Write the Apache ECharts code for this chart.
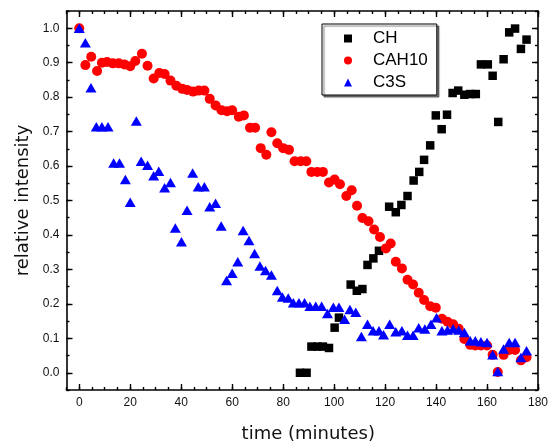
<!DOCTYPE html>
<html>
<head>
<meta charset="utf-8">
<script src="https://cdn.jsdelivr.net/npm/echarts@6/dist/echarts.min.js"></script>
<style>
html,body{margin:0;padding:0;background:#fff;}
#chart{width:552px;height:448px;}
</style>
</head>
<body>
<div id="chart"></div>
<script>
// ---- data ----
const chTime = [86.6, 89.2, 91.1, 93.4, 95.6, 98.0, 100.2, 101.9, 106.5, 108.9, 111.1, 113.1, 115.4, 117.6, 121.6, 124.2, 126.4, 128.8, 131.2, 133.4, 135.3, 137.7, 139.9, 142.2, 144.3, 146.5, 148.7, 151.1, 153.4, 155.6, 157.6, 160.3, 162.2, 164.4, 166.5, 168.7, 171.0, 173.3, 175.5];
const chValue = [0.0, 0.0, 0.076, 0.076, 0.076, 0.072, 0.131, 0.160, 0.256, 0.238, 0.243, 0.313, 0.332, 0.354, 0.482, 0.466, 0.487, 0.513, 0.558, 0.583, 0.618, 0.660, 0.747, 0.707, 0.749, 0.812, 0.819, 0.807, 0.809, 0.809, 0.895, 0.895, 0.862, 0.728, 0.910, 0.988, 0.999, 0.940, 0.967];

const cah10Time = [0, 2.4, 4.7, 7.0, 8.9, 10.9, 13.2, 15.5, 17.7, 20.0, 22.0, 24.6, 26.8, 29.2, 31.4, 33.5, 35.8, 38.1, 40.4, 42.3, 44.7, 46.9, 49.1, 51.2, 53.5, 55.8, 58.0, 60.0, 62.6, 64.6, 67.0, 69.0, 71.2, 73.4, 75.4, 77.7, 80.0, 82.3, 84.5, 86.9, 89.1, 91.1, 93.4, 95.6, 98.0, 100.2, 102.3, 104.8, 106.9, 109.0, 111.1, 113.5, 115.7, 118.0, 120.3, 122.2, 124.2, 126.6, 128.8, 131.0, 133.2, 135.3, 137.7, 139.9, 142.3, 144.5, 146.7, 148.9, 151.1, 153.4, 155.4, 157.6, 160.0, 162.2, 164.2, 166.5, 168.7, 171.0, 173.3, 175.5];
const cah10Value = [1.0, 0.893, 0.917, 0.876, 0.900, 0.902, 0.898, 0.898, 0.895, 0.890, 0.905, 0.926, 0.891, 0.854, 0.870, 0.867, 0.848, 0.833, 0.824, 0.821, 0.816, 0.819, 0.819, 0.795, 0.776, 0.762, 0.759, 0.762, 0.743, 0.747, 0.711, 0.711, 0.652, 0.633, 0.698, 0.666, 0.652, 0.647, 0.614, 0.614, 0.614, 0.583, 0.583, 0.583, 0.552, 0.561, 0.547, 0.513, 0.530, 0.485, 0.449, 0.440, 0.416, 0.394, 0.361, 0.375, 0.322, 0.303, 0.270, 0.256, 0.232, 0.211, 0.193, 0.189, 0.157, 0.148, 0.141, 0.128, 0.098, 0.081, 0.079, 0.079, 0.079, 0.052, 0.002, 0.052, 0.066, 0.066, 0.036, 0.045];

const c3sTime = [0, 2.4, 4.6, 6.7, 8.9, 11.3, 13.5, 15.8, 18.1, 20.0, 22.4, 24.3, 26.8, 29.2, 31.2, 33.5, 35.8, 37.7, 40.1, 42.3, 44.5, 46.7, 49.1, 51.2, 53.5, 55.7, 57.8, 60.0, 62.2, 64.3, 66.6, 68.8, 70.9, 73.1, 75.4, 77.7, 79.7, 82.0, 84.0, 86.2, 88.4, 90.5, 92.8, 95.1, 97.4, 99.7, 101.9, 104.1, 106.2, 108.5, 110.7, 113.1, 115.3, 117.6, 119.4, 121.8, 124.2, 126.6, 128.8, 131.0, 133.2, 135.6, 138.0, 140.2, 142.3, 144.5, 146.7, 148.9, 151.1, 153.4, 155.4, 157.6, 160.0, 162.2, 164.2, 166.5, 168.7, 171.0, 173.3, 175.5];
const c3sValue = [1.0, 0.958, 0.827, 0.714, 0.714, 0.714, 0.609, 0.609, 0.561, 0.495, 0.731, 0.614, 0.602, 0.572, 0.585, 0.537, 0.552, 0.420, 0.380, 0.472, 0.580, 0.540, 0.540, 0.482, 0.492, 0.426, 0.268, 0.289, 0.322, 0.413, 0.384, 0.346, 0.310, 0.297, 0.284, 0.239, 0.220, 0.217, 0.203, 0.203, 0.203, 0.193, 0.193, 0.193, 0.172, 0.190, 0.190, 0.155, 0.184, 0.176, 0.105, 0.141, 0.122, 0.122, 0.110, 0.141, 0.119, 0.122, 0.109, 0.109, 0.131, 0.127, 0.141, 0.160, 0.122, 0.124, 0.128, 0.124, 0.117, 0.093, 0.093, 0.090, 0.088, 0.052, 0.004, 0.069, 0.088, 0.088, 0.044, 0.064];

const xTickLabels = [0, 20, 40, 60, 80, 100, 120, 140, 160, 180];
const yTickLabels = [0.0, 0.1, 0.2, 0.3, 0.4, 0.5, 0.6, 0.7, 0.8, 0.9, 1.0];

// ---- build ----
const pairs = (t, v) => t.map((x, i) => [x, v[i]]);
const axisColor = '#000';
const tickStyle = {color: axisColor, width: 1.4};

function xAx(pos, major, showLine, showLabel) {
  const a = {
    type: 'value', position: pos, min: -5, max: 180,
    axisLine: {show: showLine, onZero: false, lineStyle: {color: axisColor, width: 1.6}},
    splitLine: {show: false},
    axisLabel: {show: false},
    axisTick: {show: true, inside: true, lineStyle: tickStyle}
  };
  if (major) {
    a.axisTick.customValues = xTickLabels;
    a.axisTick.length = 6;
  } else {
    a.interval = 5;
    a.axisTick.length = 3;
  }
  if (showLabel) {
    a.axisLabel = {show: true, customValues: xTickLabels, margin: 7, fontSize: 12,
      fontFamily: 'Liberation Sans, Arial, sans-serif', color: '#111'};
    a.name = 'time (minutes)';
    a.nameLocation = 'middle';
    a.nameGap = 35;
    a.nameTextStyle = {fontSize: 18, fontFamily: 'DejaVu Sans, sans-serif', color: '#111',
      padding: [0, 0, 0, 12]};
  }
  return a;
}
function yAx(pos, major, showLine, showLabel) {
  const a = {
    type: 'value', position: pos, min: -0.05, max: 1.05,
    axisLine: {show: showLine, onZero: false, lineStyle: {color: axisColor, width: 1.6}},
    splitLine: {show: false},
    axisLabel: {show: false},
    axisTick: {show: true, inside: true, lineStyle: tickStyle}
  };
  if (major) {
    a.axisTick.customValues = yTickLabels;
    a.axisTick.length = 6;
  } else {
    a.interval = 0.05;
    a.axisTick.length = 3;
  }
  if (showLabel) {
    a.axisLabel = {show: true, customValues: yTickLabels, margin: 7, fontSize: 12,
      fontFamily: 'Liberation Sans, Arial, sans-serif', color: '#111',
      formatter: v => Number(v).toFixed(1)};
    a.name = 'relative intensity';
    a.nameLocation = 'middle';
    a.nameGap = 34;
    a.nameTextStyle = {fontSize: 18, fontFamily: 'DejaVu Sans, sans-serif', color: '#111'};
  }
  return a;
}

const chart = echarts.init(document.getElementById('chart'), null, {renderer: 'canvas'});
chart.setOption({
  animation: false,
  backgroundColor: '#fff',
  grid: {left: 66.5, right: 14, top: 11, bottom: 54.5, containLabel: false},
  xAxis: [xAx('bottom', true, true, true), xAx('bottom', false, false, false),
          xAx('top', true, true, false), xAx('top', false, false, false)],
  yAxis: [yAx('left', true, true, true), yAx('left', false, false, false),
          yAx('right', true, true, false), yAx('right', false, false, false)],
  legend: {
    data: ['CH', 'CAH10', 'C3S'],
    orient: 'vertical', left: 322, top: 24,
    padding: [6, 9, 4, 22],
    itemWidth: 8, itemHeight: 8, itemGap: 5,
    selectedMode: false,
    textStyle: {fontSize: 17, fontFamily: 'Liberation Sans, Arial, sans-serif', color: '#000',
      padding: [0, 0, 0, 16]},
    borderColor: '#000', borderWidth: 1, backgroundColor: '#fff',
    shadowColor: 'rgba(0,0,0,0.5)', shadowOffsetX: 2, shadowOffsetY: 2, shadowBlur: 1
  },
  series: [
    {name: 'CH', type: 'scatter', xAxisIndex: 0, yAxisIndex: 0, symbol: 'rect', symbolSize: 8.5,
     symbolKeepAspect: true,
     itemStyle: {color: '#000', opacity: 1}, data: pairs(chTime, chValue)},
    {name: 'CAH10', type: 'scatter', xAxisIndex: 0, yAxisIndex: 0, symbol: 'circle', symbolSize: 10,
     symbolKeepAspect: true,
     itemStyle: {color: '#ff0000', opacity: 1}, data: pairs(cah10Time, cah10Value)},
    {name: 'C3S', type: 'scatter', xAxisIndex: 0, yAxisIndex: 0, symbol: 'triangle', symbolSize: [11, 9.5],
     itemStyle: {color: '#0000ff', opacity: 1}, data: pairs(c3sTime, c3sValue)}
  ]
});
</script>
</body>
</html>
